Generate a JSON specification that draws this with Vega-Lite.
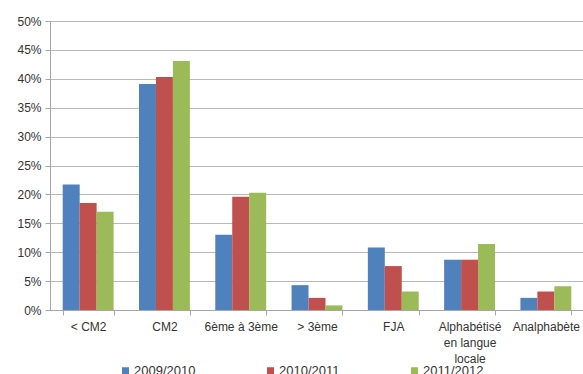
{
  "$schema": "https://vega.github.io/schema/vega-lite/v6.json",
  "width": 534,
  "height": 289,
  "autosize": "none",
  "padding": {"left": 50, "top": 21, "right": 0, "bottom": 64},
  "background": "white",
  "config": {
    "view": {"stroke": null},
    "font": "Liberation Sans"
  },
  "data": {
    "values": [
      {"niveau": "< CM2", "annee": "2009/2010", "part": 0.217},
      {"niveau": "< CM2", "annee": "2010/2011", "part": 0.185},
      {"niveau": "< CM2", "annee": "2011/2012", "part": 0.170},
      {"niveau": "CM2", "annee": "2009/2010", "part": 0.391},
      {"niveau": "CM2", "annee": "2010/2011", "part": 0.403},
      {"niveau": "CM2", "annee": "2011/2012", "part": 0.431},
      {"niveau": "6ème à 3ème", "annee": "2009/2010", "part": 0.130},
      {"niveau": "6ème à 3ème", "annee": "2010/2011", "part": 0.196},
      {"niveau": "6ème à 3ème", "annee": "2011/2012", "part": 0.203},
      {"niveau": "> 3ème", "annee": "2009/2010", "part": 0.043},
      {"niveau": "> 3ème", "annee": "2010/2011", "part": 0.021},
      {"niveau": "> 3ème", "annee": "2011/2012", "part": 0.008},
      {"niveau": "FJA", "annee": "2009/2010", "part": 0.108},
      {"niveau": "FJA", "annee": "2010/2011", "part": 0.076},
      {"niveau": "FJA", "annee": "2011/2012", "part": 0.032},
      {"niveau": "Alphabétisé en langue locale", "annee": "2009/2010", "part": 0.087},
      {"niveau": "Alphabétisé en langue locale", "annee": "2010/2011", "part": 0.087},
      {"niveau": "Alphabétisé en langue locale", "annee": "2011/2012", "part": 0.114},
      {"niveau": "Analphabète", "annee": "2009/2010", "part": 0.021},
      {"niveau": "Analphabète", "annee": "2010/2011", "part": 0.032},
      {"niveau": "Analphabète", "annee": "2011/2012", "part": 0.041}
    ]
  },
  "mark": {"type": "bar"},
  "encoding": {
    "x": {
      "field": "niveau",
      "type": "nominal",
      "sort": null,
      "scale": {"paddingInner": 0.333, "paddingOuter": 0.1667},
      "axis": {
        "title": null,
        "labelAngle": 0,
        "labelFont": "Liberation Sans",
        "labelFontSize": 12,
        "labelColor": "#333333",
        "labelPadding": 6,
        "labelLineHeight": 16,
        "labelExpr": "datum.label == 'Alphabétisé en langue locale' ? ['Alphabétisé', 'en langue', 'locale'] : datum.label",
        "tickBand": "extent",
        "tickSize": 5,
        "tickColor": "#a6a6a6",
        "domainColor": "#a6a6a6",
        "labelLimit": 0
      }
    },
    "xOffset": {
      "field": "annee",
      "type": "nominal",
      "scale": {"paddingInner": 0, "paddingOuter": 0}
    },
    "y": {
      "field": "part",
      "type": "quantitative",
      "scale": {"domain": [0, 0.5]},
      "axis": {
        "title": null,
        "format": ".0%",
        "values": [0, 0.05, 0.1, 0.15, 0.2, 0.25, 0.3, 0.35, 0.4, 0.45, 0.5],
        "labelFont": "Liberation Sans",
        "labelFontSize": 12,
        "labelColor": "#333333",
        "labelPadding": 4,
        "tickSize": 5,
        "tickColor": "#a6a6a6",
        "domainColor": "#a6a6a6",
        "gridColor": "#b8b8b8",
        "grid": true
      }
    },
    "color": {
      "field": "annee",
      "type": "nominal",
      "scale": {
        "domain": ["2009/2010", "2010/2011", "2011/2012"],
        "range": ["#4F81BD", "#C0504D", "#9BBB59"]
      },
      "legend": {
        "title": null,
        "orient": "none",
        "direction": "horizontal",
        "legendX": 69,
        "legendY": 343,
        "symbolType": "square",
        "symbolSize": 49,
        "symbolStrokeWidth": 0,
        "labelFont": "Liberation Sans",
        "labelFontSize": 13,
        "labelColor": "#333333",
        "labelOffset": 2,
        "columnPadding": 68
      }
    }
  }
}
